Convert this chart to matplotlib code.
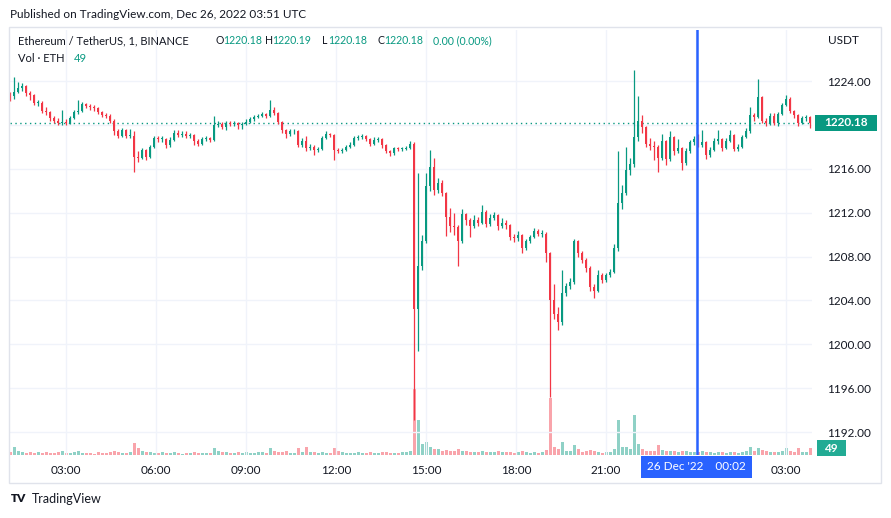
import matplotlib
matplotlib.use("Agg")
import matplotlib.pyplot as plt
from matplotlib.patches import Rectangle

plt.rcParams['font.family'] = ['Lato', 'DejaVu Sans']

# ETH/USDT, one candle per 8 minutes (minutes since 25 Dec 00:00)
first_time = 68
step = 8
first_open = 1222.8

closes = [
    1222.6, 1223.0, 1223.4, 1223.5, 1222.9, 1222.7, 1222.0, 1222.0, 1221.3, 1221.2,
    1220.6, 1220.4, 1220.2, 1220.3, 1220.2, 1220.6, 1221.2, 1221.3, 1221.9, 1221.7,
    1221.6, 1221.5, 1221.2, 1220.9, 1220.8, 1220.4, 1219.4, 1219.0, 1219.5, 1219.0,
    1219.0, 1217.1, 1217.0, 1217.7, 1217.1, 1218.0, 1218.8, 1218.7, 1218.7, 1218.2,
    1218.6, 1219.3, 1219.1, 1219.2, 1219.0, 1219.1, 1218.5, 1218.3, 1218.7, 1218.8,
    1218.6, 1220.0, 1220.1, 1219.8, 1220.2, 1220.1, 1220.2, 1220.0, 1220.1, 1220.3,
    1220.5, 1220.7, 1220.8, 1221.0, 1220.8, 1221.4, 1221.1, 1220.3, 1219.5, 1219.2,
    1219.4, 1219.4, 1218.2, 1218.5, 1217.9, 1218.0, 1217.7, 1217.8, 1218.8, 1219.2,
    1219.1, 1217.7, 1217.6, 1217.7, 1218.0, 1218.2, 1218.8, 1218.9, 1219.0, 1218.7,
    1218.3, 1218.6, 1218.7, 1218.2, 1217.6, 1217.4, 1217.9, 1217.8, 1217.8, 1217.9,
    1218.3, 1203.2, 1207.1, 1209.4, 1214.4, 1216.2, 1214.1, 1214.7, 1213.8, 1211.6,
    1210.8, 1210.7, 1209.4, 1211.9, 1211.3, 1210.8, 1211.3, 1211.1, 1212.1, 1211.0,
    1211.5, 1211.8, 1210.8, 1211.1, 1210.9, 1209.8, 1209.7, 1210.0, 1208.8, 1209.4,
    1209.8, 1210.3, 1210.1, 1210.1, 1208.3, 1204.0, 1202.8, 1202.0, 1204.7, 1205.3,
    1205.7, 1209.4, 1208.3, 1207.7, 1207.0, 1205.2, 1204.9, 1206.3, 1205.9, 1206.3,
    1206.6, 1208.8, 1212.9, 1213.8, 1215.9, 1216.4, 1218.9, 1220.4, 1219.8, 1218.3,
    1218.1, 1218.0, 1217.0, 1218.5, 1216.9, 1218.9, 1217.6, 1217.9, 1216.5, 1217.6,
    1218.4, 1218.7, 1218.2, 1218.4, 1217.3, 1217.7, 1218.5, 1218.7, 1217.9, 1218.5,
    1219.1, 1217.8, 1218.0, 1218.9, 1219.4, 1220.9, 1220.7, 1222.5, 1220.4, 1220.2,
    1220.8, 1220.2, 1221.0, 1221.8, 1222.4, 1221.3, 1220.9, 1220.2, 1220.6, 1220.7,
    1220.18,
]

highs = [
    1223.0, 1224.4, 1223.9, 1223.8, 1223.6, 1223.1, 1222.8, 1222.3, 1222.2, 1221.6,
    1221.3, 1220.8, 1220.6, 1221.4, 1220.5, 1220.8, 1221.4, 1222.3, 1222.1, 1222.0,
    1221.9, 1221.8, 1221.6, 1221.3, 1221.1, 1221.0, 1220.5, 1219.6, 1219.7, 1219.6,
    1219.6, 1219.4, 1217.6, 1217.9, 1217.8, 1218.2, 1219.0, 1219.0, 1219.0, 1218.8,
    1218.9, 1219.5, 1219.5, 1219.4, 1219.4, 1219.3, 1219.2, 1218.7, 1218.9, 1219.0,
    1218.9, 1220.8, 1220.4, 1220.3, 1220.4, 1220.4, 1220.4, 1220.3, 1220.3, 1220.5,
    1220.7, 1220.9, 1221.0, 1221.2, 1221.1, 1222.3, 1221.6, 1221.2, 1220.4, 1219.6,
    1219.6, 1219.6, 1219.5, 1218.8, 1219.0, 1218.3, 1218.2, 1218.0, 1219.0, 1219.4,
    1219.3, 1219.2, 1217.9, 1217.9, 1218.2, 1218.4, 1219.0, 1219.1, 1219.2, 1219.1,
    1218.8, 1218.9, 1218.9, 1218.8, 1218.3, 1217.7, 1218.0, 1218.0, 1218.0, 1218.1,
    1218.5, 1218.4, 1215.6, 1210.0, 1215.6, 1217.7, 1217.0, 1215.2, 1215.0, 1213.9,
    1212.4, 1212.0, 1210.9, 1212.3, 1212.0, 1211.5, 1211.8, 1211.6, 1212.7, 1212.2,
    1211.9, 1212.1, 1211.9, 1211.5, 1211.3, 1211.0, 1210.1, 1210.3, 1210.1, 1209.6,
    1210.0, 1210.6, 1210.5, 1210.4, 1210.2, 1208.4, 1205.5, 1203.4, 1206.8, 1205.6,
    1206.0, 1209.6, 1209.5, 1208.5, 1207.9, 1207.1, 1205.5, 1206.8, 1206.5, 1206.5,
    1206.9, 1209.1, 1217.6, 1214.5, 1218.0, 1217.0, 1225.0, 1222.6, 1220.9, 1219.9,
    1218.8, 1218.5, 1218.2, 1219.2, 1218.6, 1219.4, 1219.0, 1218.7, 1218.0, 1217.9,
    1218.6, 1219.0, 1219.2, 1219.5, 1218.5, 1218.0, 1218.8, 1219.5, 1218.8, 1218.8,
    1219.5, 1219.2, 1218.3, 1219.1, 1219.7, 1221.6, 1221.1, 1224.2, 1222.6, 1220.6,
    1221.1, 1221.1, 1221.2, 1222.0, 1222.7, 1222.5, 1221.4, 1221.0, 1220.8, 1220.9,
    1220.8,
]

lows = [
    1222.2, 1222.4, 1222.9, 1223.1, 1222.6, 1222.3, 1221.8, 1221.7, 1221.1, 1220.9,
    1220.4, 1220.2, 1220.0, 1220.0, 1220.0, 1220.1, 1220.5, 1221.0, 1221.2, 1221.5,
    1221.4, 1221.3, 1221.0, 1220.7, 1220.6, 1220.2, 1219.1, 1218.8, 1218.9, 1218.8,
    1218.8, 1215.7, 1216.6, 1216.9, 1216.8, 1217.0, 1217.9, 1218.4, 1218.4, 1217.9,
    1218.0, 1218.5, 1218.9, 1218.9, 1218.8, 1218.8, 1218.2, 1218.1, 1218.2, 1218.5,
    1218.4, 1218.5, 1219.8, 1219.6, 1219.5, 1219.9, 1219.9, 1219.6, 1219.6, 1220.0,
    1220.2, 1220.4, 1220.6, 1220.7, 1220.6, 1220.7, 1220.9, 1220.1, 1219.3, 1218.8,
    1219.0, 1219.2, 1218.0, 1218.0, 1217.6, 1217.7, 1217.3, 1217.5, 1217.7, 1218.7,
    1218.9, 1216.8, 1217.4, 1217.4, 1217.6, 1217.9, 1218.1, 1218.6, 1218.7, 1218.5,
    1218.1, 1218.2, 1218.4, 1217.9, 1217.4, 1217.2, 1217.3, 1217.6, 1217.6, 1217.7,
    1217.8, 1193.1, 1199.4, 1206.8, 1209.2, 1214.0, 1213.6, 1213.8, 1213.5, 1209.9,
    1210.2, 1210.0, 1207.1, 1209.2, 1210.9, 1209.8, 1210.6, 1210.8, 1211.0, 1210.7,
    1210.8, 1211.3, 1210.4, 1210.6, 1210.5, 1209.5, 1209.3, 1209.4, 1208.3, 1208.6,
    1209.2, 1209.7, 1209.9, 1209.8, 1207.5, 1195.2, 1202.3, 1201.3, 1201.8, 1204.4,
    1205.0, 1205.5, 1208.0, 1207.4, 1206.6, 1204.9, 1204.2, 1204.8, 1205.6, 1205.7,
    1206.1, 1206.5, 1208.5, 1212.3, 1213.6, 1215.4, 1216.2, 1218.5, 1219.3, 1218.0,
    1217.7, 1216.8, 1215.7, 1216.8, 1216.3, 1216.7, 1217.3, 1217.4, 1215.9, 1216.3,
    1217.4, 1218.2, 1218.0, 1218.0, 1216.9, 1217.1, 1217.6, 1218.3, 1217.6, 1217.8,
    1218.4, 1217.6, 1217.6, 1217.9, 1218.8, 1219.3, 1220.4, 1220.6, 1220.2, 1219.9,
    1220.0, 1220.0, 1219.9, 1220.9, 1221.7, 1221.1, 1220.6, 1219.9, 1220.1, 1220.4,
    1219.7,
]

volumes = [
    20, 60, 25, 18, 15, 22, 12, 18, 14, 20, 12, 15, 18, 30, 14, 12, 20, 25, 15, 12,
    14, 10, 18, 15, 12, 20, 30, 22, 15, 14, 18, 85, 50, 25, 20, 18, 15, 12, 22, 14,
    12, 18, 15, 10, 14, 12, 18, 14, 15, 12, 16, 50, 25, 18, 20, 14, 15, 22, 14, 18,
    12, 15, 20, 18, 14, 50, 25, 20, 18, 30, 15, 14, 50, 22, 55, 20, 18, 15, 22, 14,
    16, 50, 25, 18, 15, 12, 14, 18, 12, 15, 20, 14, 12, 18, 22, 15, 14, 12, 18, 20,
    25, 470, 250, 80, 90, 60, 45, 40, 30, 35, 28, 25, 40, 30, 25, 22, 20, 18, 25, 20,
    18, 22, 25, 20, 18, 22, 15, 18, 25, 20, 15, 18, 14, 20, 35, 400, 60, 45, 90, 30,
    25, 70, 40, 22, 25, 35, 30, 20, 15, 18, 22, 45, 250, 60, 55, 40, 280, 80, 40, 30,
    25, 30, 70, 35, 30, 28, 25, 22, 30, 25, 20, 18, 22, 25, 20, 18, 15, 20, 18, 15,
    20, 18, 15, 22, 25, 55, 30, 50, 35, 25, 20, 22, 18, 30, 50, 25, 20, 50, 22, 18,
    49,
]

opens = [first_open] + closes[:-1]
times = [first_time + step * i for i in range(len(closes))]

tick_times = [180, 360, 540, 720, 900, 1080, 1260, 1440, 1620]
tick_labels = ["03:00", "06:00", "09:00", "12:00", "15:00", "18:00", "21:00", "", "03:00"]
price_ticks = [1192, 1196, 1200, 1204, 1208, 1212, 1216, 1220, 1224]
last_price = 1220.18
crosshair_time = 1442

UP = "#089981"
DOWN = "#f23645"
TEXT = "#131722"
GRID = "#f0f3fa"

W, H = 891, 518
fig = plt.figure(figsize=(W / 100, H / 100), dpi=100)
fig.patch.set_facecolor("white")


def fx(px):
    return px / W


def fy(py):
    return 1 - py / H


ax = fig.add_axes([fx(10), fy(455), fx(802), 425 / H])
vax = ax.twinx()
ax.set_zorder(vax.get_zorder() + 1)
ax.patch.set_visible(False)

# volume overlay
vcols = [UP if c >= o else DOWN for o, c in zip(opens, closes)]
vax.bar(times, volumes, width=6, color=vcols, alpha=0.45, linewidth=0)
vax.set_ylim(0, 3000)
vax.set_yticks([])
for s in vax.spines.values():
    s.set_visible(False)

# candles
cols = [UP if c >= o else DOWN for o, c in zip(opens, closes)]
ax.vlines(times, lows, highs, colors=cols, linewidth=0.9, zorder=3)
bottoms = [min(o, c) for o, c in zip(opens, closes)]
heights = [max(abs(c - o), 0.06) for o, c in zip(opens, closes)]
ax.bar(times, heights, bottom=bottoms, width=5, color=cols, linewidth=0, zorder=3)

ax.set_xlim(68, 1672)
ax.set_ylim(1189.91, 1228.65)

# the 1220 label sits under the last-price box, as in TradingView
ax.set_yticks(price_ticks)
ax.set_yticklabels(["" if p == 1220 else f"{p:.2f}" for p in price_ticks])
ax.yaxis.tick_right()
ax.tick_params(axis="y", length=0, pad=11, labelsize=8.5, labelcolor=TEXT)
ax.set_xticks(tick_times)
ax.set_xticklabels(tick_labels)
ax.tick_params(axis="x", length=0, pad=7, labelsize=8.5, labelcolor=TEXT)
ax.grid(True, color=GRID, linewidth=1)
ax.set_axisbelow(True)
for s in ax.spines.values():
    s.set_visible(False)

# last price line and crosshair
ax.axhline(last_price, color=UP, linewidth=1, linestyle=(0, (1, 2.5)), zorder=2)
ax.axvline(crosshair_time, color="#2962ff", linewidth=1.8, zorder=4)

# pane frame
fig.patches.append(Rectangle((fx(9), fy(483)), fx(872), 456 / H, transform=fig.transFigure,
                             fill=False, edgecolor="#e0e3eb", linewidth=1))

# price axis labels
fig.text(fx(828), fy(41), "USDT", fontsize=8.5, color=TEXT, va="center")
fig.patches.append(Rectangle((fx(815), fy(131)), fx(62), 16 / H, transform=fig.transFigure,
                             facecolor=UP, edgecolor="none"))
fig.text(fx(846), fy(123), f"{last_price:.2f}", fontsize=8.5, color="white",
         ha="center", va="center", fontweight="bold")
fig.patches.append(Rectangle((fx(817), fy(456)), fx(29), 16 / H, transform=fig.transFigure,
                             facecolor="#22ab94", edgecolor="none"))
fig.text(fx(831), fy(448), str(volumes[-1]), fontsize=8.5, color="white",
         ha="center", va="center", fontweight="bold")

# crosshair time label
fig.patches.append(Rectangle((fx(641), fy(478)), fx(111), 22 / H, transform=fig.transFigure,
                             facecolor="#2962ff", edgecolor="none"))
fig.text(fx(696.5), fy(467), "26 Dec '22    00:02", fontsize=8.5, color="white",
         ha="center", va="center")

# header
fig.text(fx(10), fy(14), "Published on TradingView.com, Dec 26, 2022 03:51 UTC",
         fontsize=8.5, color=TEXT, va="center")
fig.text(fx(18), fy(41), "Ethereum / TetherUS, 1, BINANCE", fontsize=8, color=TEXT, va="center")
legend_parts = [(216, "O", TEXT), (223, "1220.18", UP), (265, "H", TEXT), (272, "1220.19", UP),
                (322, "L", TEXT), (328, "1220.18", UP), (377, "C", TEXT), (384, "1220.18", UP),
                (433, "0.00 (0.00%)", UP)]
for px, txt, col in legend_parts:
    fig.text(fx(px), fy(41), txt, fontsize=7.6, color=col, va="center")
fig.text(fx(18), fy(58), "Vol · ETH", fontsize=8, color=TEXT, va="center")
fig.text(fx(74), fy(58), "49", fontsize=8, color=UP, va="center")

# footer logo
fig.text(fx(11), fy(499), "TV", fontsize=8.5, color=TEXT, va="center", fontweight="heavy")
fig.text(fx(32), fy(499), "TradingView", fontsize=9, color=TEXT, va="center")

fig.savefig("out.png", dpi=100)
